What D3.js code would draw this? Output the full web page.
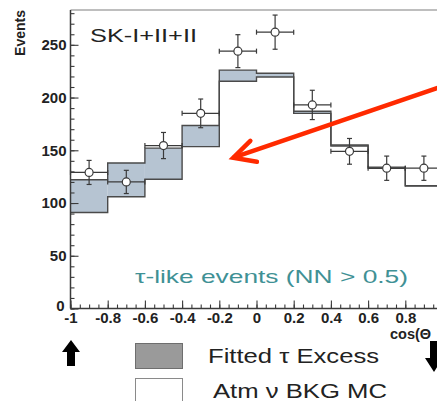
<!DOCTYPE html>
<html>
<head>
<meta charset="utf-8">
<script src="https://cdn.jsdelivr.net/npm/d3@7"></script>
<style>
  body { margin: 0; background: #fff; }
  svg { display: block; }
  text { font-family: "Liberation Sans", Arial, sans-serif; }
</style>
</head>
<body>
<svg id="chart" width="437" height="401"></svg>
<script>
// Zenith-angle distribution of tau-like events: data, atmospheric background MC, fitted tau excess
const binLow     = [-1.0, -0.8, -0.6, -0.4, -0.2, 0.0, 0.2, 0.4, 0.6, 0.8];
const binWidth   = 0.2;
const bkgMC      = [91, 106, 122.5, 153.5, 215.5, 219.5, 185, 154, 133, 116];
const tauExcess  = [31, 32, 29.5, 20, 10.5, 3.5, 2, 1, 1, 0.5];
const dataEvents = [129, 120, 154.5, 185, 244, 262, 193, 149, 133, 133];
const dataErr    = [11.4, 11, 12.4, 13.6, 15.6, 16.2, 13.9, 12.2, 11.5, 11.5];

const xMajorTicks = [-1, -0.8, -0.6, -0.4, -0.2, 0, 0.2, 0.4, 0.6, 0.8, 1];
const xTickLabels = ["-1", "-0.8", "-0.6", "-0.4", "-0.2", "0", "0.2", "0.4", "0.6", "0.8", ""];
const xMinorTicks = d3.range(-1, 1.0001, 0.05);
const yMajorTicks = [0, 50, 100, 150, 200, 250];
const yTickLabels = ["0", "50", "100", "150", "200", "250"];
const yMinorTicks = d3.range(0, 281, 10);

const svg = d3.select("#chart");
const x = d3.scaleLinear().domain([-1, 1]).range([70.5, 442.5]);
const y = d3.scaleLinear().domain([0, 283]).range([308.5, 10]);

const lineCol = "#3a3a3a";
const histCol = "#4a4a4a";
const fillCol = "#b6c4d2";

// frame
svg.append("line").attr("x1", x(-1)).attr("x2", x(1)).attr("y1", y(283)).attr("y2", y(283))
  .attr("stroke", "#a8a8a8").attr("stroke-width", 1.5);

// tau excess stacked on top of the background
const bins = binLow.map((lo, i) => ({ lo, hi: lo + binWidth, bkg: bkgMC[i], tot: bkgMC[i] + tauExcess[i] }));
svg.append("g").selectAll("rect").data(bins).join("rect")
  .attr("x", d => x(d.lo)).attr("width", d => x(d.hi) - x(d.lo))
  .attr("y", d => y(d.tot)).attr("height", d => y(d.bkg) - y(d.tot))
  .attr("fill", fillCol);

function stepPath(vals) {
  const p = d3.path();
  bins.forEach((b, i) => {
    if (i === 0) p.moveTo(x(b.lo), y(vals[i])); else p.lineTo(x(b.lo), y(vals[i]));
    p.lineTo(x(b.hi), y(vals[i]));
  });
  return p.toString();
}
svg.append("path").attr("d", stepPath(bins.map(b => b.tot)))
  .attr("fill", "none").attr("stroke", histCol).attr("stroke-width", 1.4);
svg.append("path").attr("d", stepPath(bins.map(b => b.bkg)))
  .attr("fill", "none").attr("stroke", histCol).attr("stroke-width", 1.4);

// data points with error bars
const pts = binLow.map((lo, i) => ({ lo, hi: lo + binWidth, c: lo + binWidth / 2, v: dataEvents[i], e: dataErr[i] }));
const gp = svg.append("g").attr("stroke", lineCol).attr("stroke-width", 1.2);
pts.forEach(d => {
  const cx = x(d.c), cy = y(d.v), cap = 2.5;
  gp.append("line").attr("x1", x(d.lo)).attr("x2", x(d.hi)).attr("y1", cy).attr("y2", cy);
  gp.append("line").attr("x1", x(d.lo)).attr("x2", x(d.lo)).attr("y1", cy - cap).attr("y2", cy + cap);
  gp.append("line").attr("x1", x(d.hi)).attr("x2", x(d.hi)).attr("y1", cy - cap).attr("y2", cy + cap);
  gp.append("line").attr("x1", cx).attr("x2", cx).attr("y1", y(d.v + d.e)).attr("y2", y(d.v - d.e));
  gp.append("line").attr("x1", cx - cap).attr("x2", cx + cap).attr("y1", y(d.v + d.e)).attr("y2", y(d.v + d.e));
  gp.append("line").attr("x1", cx - cap).attr("x2", cx + cap).attr("y1", y(d.v - d.e)).attr("y2", y(d.v - d.e));
  gp.append("circle").attr("cx", cx).attr("cy", cy).attr("r", 4).attr("fill", "#fff");
});

// axes
const yMinor = svg.append("g").attr("transform", `translate(${x(-1)},0)`)
  .call(d3.axisLeft(y).tickValues(yMinorTicks).tickSize(-4).tickFormat(""));
const yMajor = svg.append("g").attr("transform", `translate(${x(-1)},0)`)
  .call(d3.axisLeft(y).tickValues(yMajorTicks).tickSize(-8).tickPadding(4)
    .tickFormat((d, i) => yTickLabels[i]));
const xMinor = svg.append("g").attr("transform", `translate(0,${y(0)})`)
  .call(d3.axisBottom(x).tickValues(xMinorTicks).tickSize(-4).tickFormat(""));
const xMajor = svg.append("g").attr("transform", `translate(0,${y(0)})`)
  .call(d3.axisBottom(x).tickValues(xMajorTicks).tickSize(-8).tickPadding(4)
    .tickFormat((d, i) => xTickLabels[i]));
[yMinor, yMajor, xMinor, xMajor].forEach(g => {
  g.select(".domain").remove();
  g.selectAll(".tick line").attr("stroke", lineCol).attr("stroke-width", 1.1);
  g.selectAll("text").attr("font-size", 15).attr("font-weight", "bold").attr("fill", "#222")
    .attr("font-family", "'Liberation Sans', Arial, sans-serif");
});
// the zero label sits a little high and left, clear of the "-1" below it
yMajor.selectAll(".tick").filter(d => d === 0).select("text").attr("dy", "0.1em").attr("x", -6);
svg.append("line").attr("x1", x(-1)).attr("x2", x(-1)).attr("y1", y(283)).attr("y2", y(0))
  .attr("stroke", lineCol).attr("stroke-width", 1.5);
svg.append("line").attr("x1", x(-1)).attr("x2", x(1)).attr("y1", y(0)).attr("y2", y(0))
  .attr("stroke", lineCol).attr("stroke-width", 1.5);

// axis titles
svg.append("text").attr("transform", "translate(25,33) rotate(-90)").attr("text-anchor", "middle")
  .attr("font-size", 14).attr("font-weight", "bold").attr("fill", "#222").text("Events");
svg.append("text").attr("x", 390).attr("y", 339).attr("font-size", 14.5).attr("font-weight", "bold")
  .attr("fill", "#222").text("cos(Θ");

// annotations
svg.append("text").attr("x", 90).attr("y", 42).attr("font-size", 19).attr("fill", "#222")
  .attr("textLength", 107).attr("lengthAdjust", "spacingAndGlyphs").text("SK-I+II+II");
svg.append("text").attr("x", 135).attr("y", 283).attr("font-size", 19).attr("fill", "#3f9195")
  .attr("textLength", 273).attr("lengthAdjust", "spacingAndGlyphs").text("τ-like events  (NN > 0.5)");

// red pointer arrow
const tip = [x(-0.125), y(143)], tail = [x(0.99), y(210)];
const ang = Math.atan2(tail[1] - tip[1], tail[0] - tip[0]);
const wing = (a) => [tip[0] + 24 * Math.cos(ang + a), tip[1] + 24 * Math.sin(ang + a)];
const red = "#ff2a00";
svg.append("line").attr("x1", tail[0]).attr("y1", tail[1]).attr("x2", tip[0]).attr("y2", tip[1])
  .attr("stroke", red).attr("stroke-width", 4.5);
svg.append("path").attr("d", d3.line()([wing(-0.45), tip, wing(0.5)]))
  .attr("fill", "none").attr("stroke", red).attr("stroke-width", 4.5)
  .attr("stroke-linecap", "round").attr("stroke-linejoin", "miter");

// legend
svg.append("path").attr("d", "M62,352 L71,340 L80,352 L75,352 L75,366 L67,366 L67,352 Z").attr("fill", "#000");
svg.append("path").attr("d", "M430,341 L438,341 L438,358 L443,358 L434,372 L425,358 L430,358 Z").attr("fill", "#000");
svg.append("rect").attr("x", 135.5).attr("y", 343.5).attr("width", 47).attr("height", 25)
  .attr("fill", "#9a9a9a").attr("stroke", "#6e6e6e").attr("stroke-width", 1);
svg.append("rect").attr("x", 135.5).attr("y", 378.5).attr("width", 47).attr("height", 25)
  .attr("fill", "#fff").attr("stroke", "#8a8a8a").attr("stroke-width", 1);
svg.append("text").attr("x", 208).attr("y", 363).attr("font-size", 20).attr("fill", "#222")
  .attr("textLength", 171).attr("lengthAdjust", "spacingAndGlyphs").text("Fitted τ Excess");
svg.append("text").attr("x", 213).attr("y", 398).attr("font-size", 20).attr("fill", "#222")
  .attr("textLength", 174).attr("lengthAdjust", "spacingAndGlyphs").text("Atm ν BKG MC");
</script>
</body>
</html>
